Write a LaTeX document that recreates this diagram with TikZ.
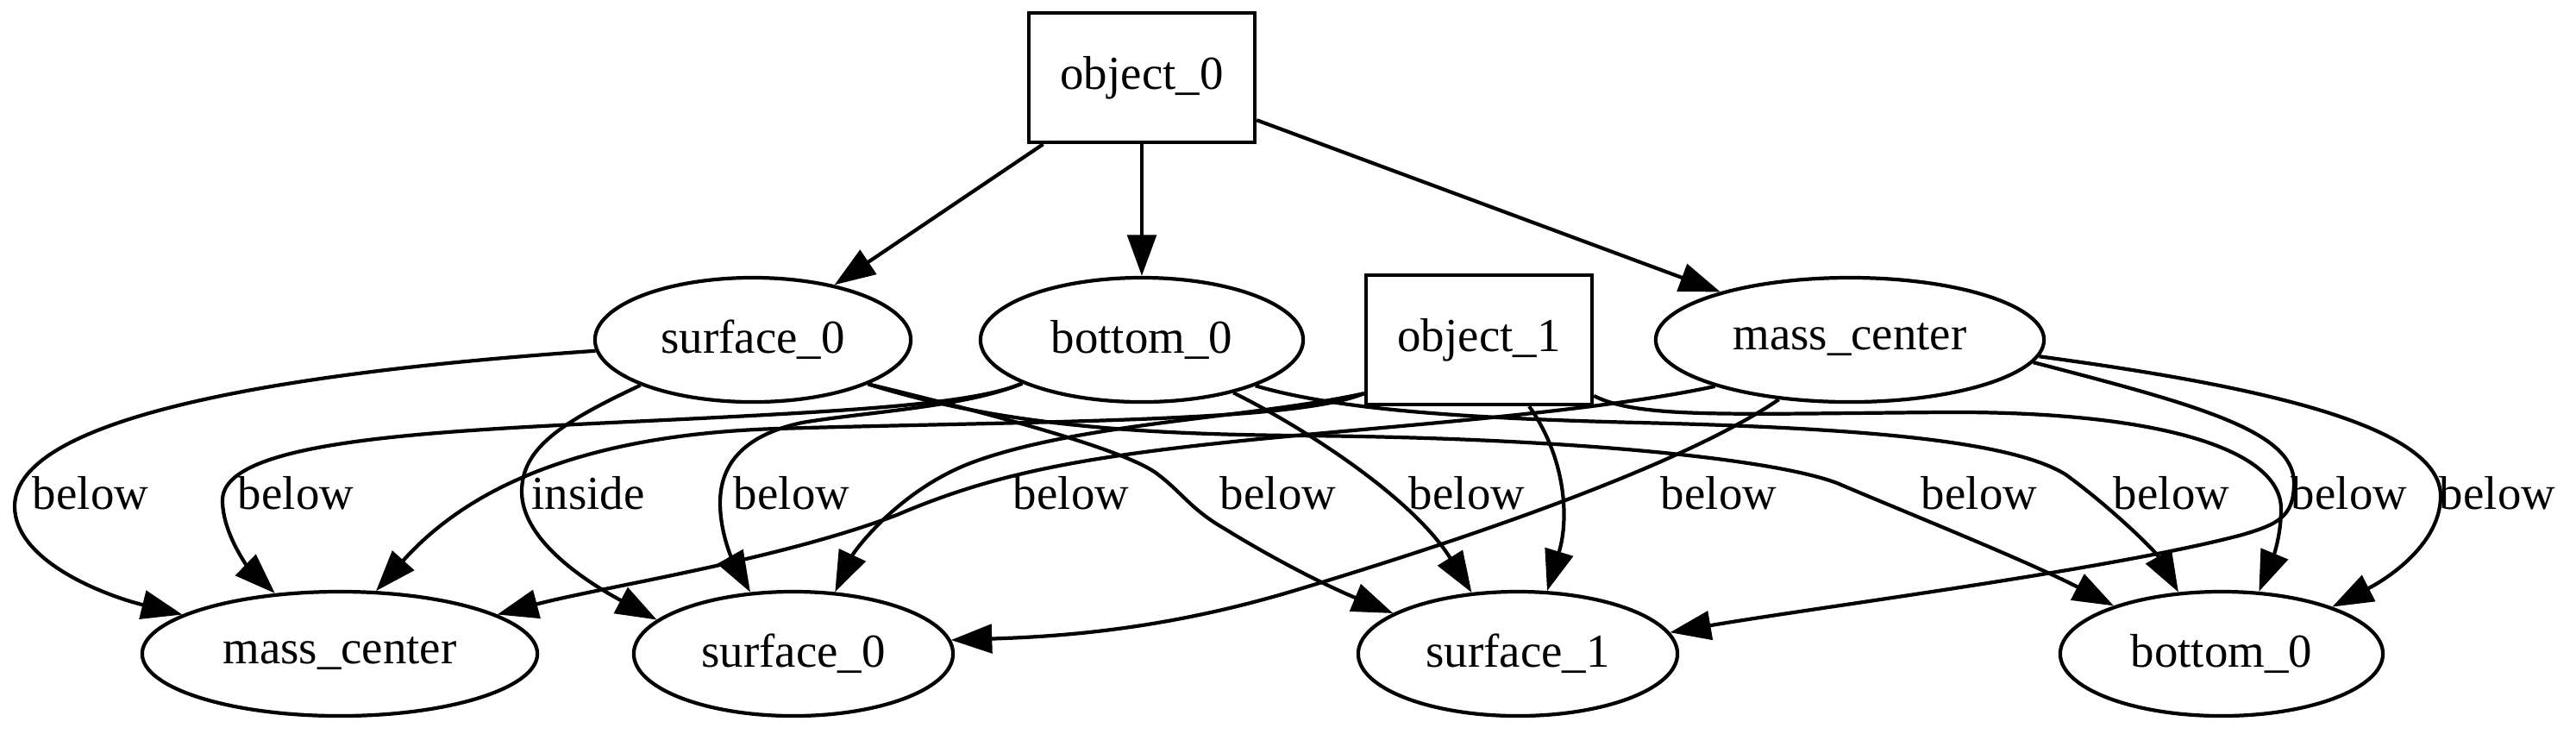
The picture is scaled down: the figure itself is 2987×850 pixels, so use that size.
\documentclass[tikz,border=0pt]{standalone}
\usepackage{fontspec}
\setmainfont{Liberation Serif}
\usetikzlibrary{arrows.meta,shapes.geometric,positioning}

\begin{document}
\begin{tikzpicture}[x=0.01cm, y=-0.01cm, font=\fontsize{15.6}{18}\selectfont]
    \tikzset{
        obj/.style={draw, rectangle, line width=1.2pt, minimum width=2.62cm, minimum height=1.5cm},
        part/.style={draw, ellipse, line width=1.2pt, minimum height=1.44cm, inner sep=0pt},
        rel/.style={line width=1.2pt, -{Triangle[length=13.5pt, width=9.5pt]}},
        lbl/.style={inner sep=0pt}
    }
    \useasboundingbox (0,0) rectangle (2987,850);

    % Objects
    \node[obj] (O0) at (1324,90) {object\_0};
    \node[obj] (O1) at (1715,394) {object\_1};

    % Parts of object_0
    \foreach \nm/\x/\w/\txt in {S0T/873/3.66/surface\_0, B0T/1324/3.74/bottom\_0, MCT/2145/4.5/mass\_center} {
            \node[part, minimum width=\w cm] (\nm) at (\x,394) {\txt};
        }
    % Parts of object_1
    \foreach \nm/\x/\w/\txt in {MCB/394/4.58/mass\_center, S0B/920/3.7/surface\_0, S1/1760/3.7/surface\_1, B0B/2576/3.74/bottom\_0} {
            \node[part, minimum width=\w cm] (\nm) at (\x,758) {\txt};
        }

    % Edge labels
    \foreach \nm/\x/\txt in {l1/105/below, l2/343/below, l3/682/inside, l4/918/below, l5/1242/below, l6/1482/below,
            l7/1701/below, l8/1993/below, l9/2295/below, l10/2518/below, l11/2724/below, l12/2896/below} {
            \node[lbl] (\nm) at (\x,572) {\txt};
        }

    % object_0 to its parts
    \draw[rel] (O0) -- (S0T);
    \draw[rel] (O0) -- (B0T);
    \draw[rel] (O0) -- (MCT);

    % object_1 to its parts
    \draw[rel] (O1.205) .. controls (1500,490) and (1200,488) .. (900,497) .. controls (650,505) and (530,580) .. (MCB.60);
    \draw[rel] (O1.205) .. controls (1450,485) and (1250,490) .. (1125,537) .. controls (1040,570) and (990,640) .. (S0B.56);
    \draw[rel] (O1.307) .. controls (1815,530) and (1820,600) .. (S1.65);
    \draw[rel] (O1.334) .. controls (1900,485) and (2000,480) .. (2250,478) .. controls (2500,476) and (2645,520) .. (2645,590) .. controls (2645,630) and (2630,660) .. (B0B.59);

    % surface_0 relations
    \draw[rel] (S0T.184) .. controls (350,430) and (17,480) .. (17,587) .. controls (17,650) and (120,690) .. (MCB.166);
    \draw[rel] (S0T.202) .. controls (650,490) and (605,520) .. (605,570) .. controls (605,630) and (690,680) .. (S0B.166);
    \draw[rel] (S0T.339) .. controls (1150,480) and (1300,520) .. (1340,548) .. controls (1370,570) and (1380,590) .. (1420,613) .. controls (1480,650) and (1540,680) .. (S1.162);
    \draw[rel] (S0T.339) .. controls (1150,490) and (1300,503) .. (1500,505) .. controls (1800,507) and (2050,530) .. (2130,560) .. controls (2200,590) and (2350,650) .. (B0B.156);

    % bottom_0 relations
    \draw[rel] (B0T.200) .. controls (1130,468) and (1000,476) .. (750,488) .. controls (500,500) and (258,510) .. (258,580) .. controls (258,620) and (290,660) .. (MCB.137);
    \draw[rel] (B0T.200) .. controls (1120,472) and (1000,478) .. (930,490) .. controls (860,505) and (835,540) .. (835,583) .. controls (835,625) and (855,660) .. (S0B.125);
    \draw[rel] (B0T.330) .. controls (1520,500) and (1640,580) .. (S1.127);
    \draw[rel] (B0T.338) .. controls (1550,475) and (1700,485) .. (1900,490) .. controls (2150,496) and (2330,510) .. (2395,550) .. controls (2450,590) and (2500,640) .. (B0B.125);

    % mass_center relations
    \draw[rel] (MCT.199) .. controls (1850,478) and (1600,495) .. (1450,510) .. controls (1250,530) and (1150,550) .. (1040,597) .. controls (900,650) and (700,680) .. (MCB.14);
    \draw[rel] (MCT.220) .. controls (1950,540) and (1700,625) .. (1500,685) .. controls (1350,730) and (1230,738) .. (S0B.5);
    \draw[rel] (MCT.353) .. controls (2550,470) and (2660,500) .. (2660,560) .. controls (2660,600) and (2640,608) .. (2600,620) .. controls (2450,660) and (2100,705) .. (S1.8);
    \draw[rel] (MCT.355) .. controls (2600,445) and (2830,490) .. (2830,575) .. controls (2830,630) and (2770,670) .. (B0B.23);

\end{tikzpicture}
\end{document}
